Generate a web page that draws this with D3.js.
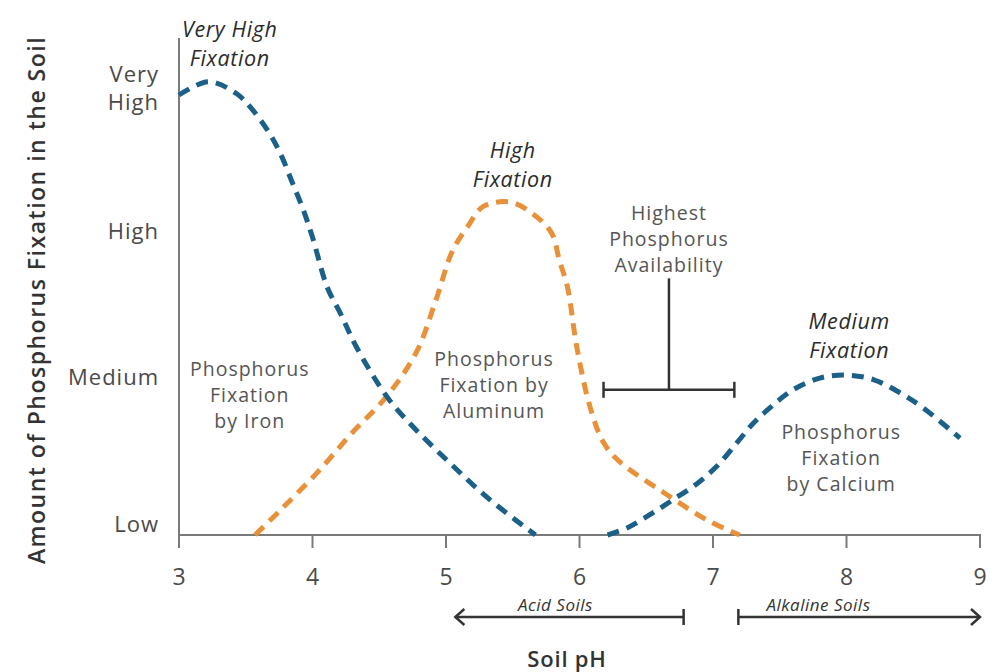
<!DOCTYPE html>
<html>
<head>
<meta charset="utf-8" />
<title>Phosphorus Fixation and Soil pH</title>
<script src="https://cdnjs.cloudflare.com/ajax/libs/d3/7.8.5/d3.min.js"></script>
<style>
body { margin: 0; background: #fff; }
svg text { font-family: "Open Sans", Lato, sans-serif; }
</style>
</head>
<body>
<svg id="chart" width="989" height="672"></svg>
<script>
// fixation levels on the y axis
const levels = [0, 1, 2, 3];
const levelLabels = [["Low"], ["Medium"], ["High"], ["Very", "High"]];
const phTicks = [3, 4, 5, 6, 7, 8, 9];

// curves: [pH, fixation level]
const iron = [[3.0, 3.0], [3.22, 3.09], [3.43, 3.01], [3.55, 2.9], [3.67, 2.75], [3.76, 2.6], [3.85, 2.4],
	[3.93, 2.22], [4.0, 2.03], [4.11, 1.69], [4.21, 1.51], [4.33, 1.28], [4.56, 0.94], [4.73, 0.76],
	[5.03, 0.49], [5.33, 0.24], [5.67, 0.0]];
const aluminum = [[3.57, 0.0], [3.76, 0.17], [4.03, 0.42], [4.3, 0.7], [4.56, 0.95], [4.78, 1.25], [4.92, 1.59],
	[5.05, 1.94], [5.16, 2.1], [5.28, 2.24], [5.48, 2.27], [5.65, 2.19], [5.79, 2.06], [5.85, 1.87],
	[5.91, 1.69], [5.98, 1.28], [6.08, 0.87], [6.18, 0.63], [6.3, 0.5], [6.63, 0.29], [6.96, 0.1], [7.2, 0.0]];
const calcium = [[6.21, 0.0], [6.36, 0.05], [6.53, 0.14], [6.7, 0.24], [6.88, 0.35], [7.03, 0.47], [7.18, 0.63],
	[7.3, 0.76], [7.43, 0.87], [7.6, 0.99], [7.8, 1.07], [8.0, 1.09], [8.2, 1.06], [8.4, 0.97],
	[8.57, 0.87], [8.85, 0.66]];

// annotation text
const peakLabels = [
	{ x: 3.38, y: 3.35, lines: ["Very High", "Fixation"] },
	{ x: 5.5, y: 2.52, lines: ["High", "Fixation"] },
	{ x: 8.02, y: 1.36, lines: ["Medium", "Fixation"] }
];
const areaLabels = [
	{ x: 3.53, y: 0.95, lines: ["Phosphorus", "Fixation", "by Iron"] },
	{ x: 5.36, y: 1.02, lines: ["Phosphorus", "Fixation by", "Aluminum"] },
	{ x: 6.67, y: 2.02, lines: ["Highest", "Phosphorus", "Availability"] },
	{ x: 7.96, y: 0.525, lines: ["Phosphorus", "Fixation", "by Calcium"] }
];
const bracketPh = [6.18, 6.67, 7.16];
const bracketLevel = [0.99, 1.75];
const soilRanges = [
	{ name: "Acid Soils", from: 5.07, to: 6.78, textAt: 5.82, arrow: "left" },
	{ name: "Alkaline Soils", from: 7.19, to: 9.0, textAt: 7.79, arrow: "right" }
];

const svg = d3.select("#chart");
const x = d3.scaleLinear().domain([3, 9]).range([179, 980]);
const y = d3.scaleLinear().domain([0, 3]).range([535, 95]);

const axisColor = "#7a7a7a";
const textColor = "#4a4a4a";

// axes lines
svg.append("line")
	.attr("x1", x(3)).attr("x2", x(3))
	.attr("y1", 38).attr("y2", y(0) + 1)
	.attr("stroke", axisColor).attr("stroke-width", 2);
svg.append("line")
	.attr("x1", x(3)).attr("x2", x(9) + 1)
	.attr("y1", y(0)).attr("y2", y(0))
	.attr("stroke", axisColor).attr("stroke-width", 2);

// x ticks
const xt = svg.append("g");
xt.selectAll("line").data(phTicks).enter().append("line")
	.attr("x1", d => x(d)).attr("x2", d => x(d))
	.attr("y1", y(0)).attr("y2", y(0) + 13)
	.attr("stroke", axisColor).attr("stroke-width", 2);
xt.selectAll("text").data(phTicks).enter().append("text")
	.attr("x", d => x(d)).attr("y", 585)
	.attr("text-anchor", "middle")
	.attr("font-size", 23)
	.attr("fill", textColor)
	.text(d => d);

// y level labels
const yl = svg.append("g");
levels.forEach((lv, i) => {
	const lines = levelLabels[i];
	const t = yl.append("text")
		.attr("x", 159)
		.attr("y", y(lv) - 3 - (lines.length - 1) * 10)
		.attr("text-anchor", "end")
		.attr("font-size", 22)
		.attr("letter-spacing", 1)
		.attr("fill", textColor);
	lines.forEach((s, j) => {
		t.append("tspan").attr("x", 159).attr("dy", j ? 28 : 0).text(s);
	});
});

// axis titles
svg.append("text")
	.attr("transform", "translate(45," + 300 + ") rotate(-90)")
	.attr("text-anchor", "middle")
	.attr("font-size", 23)
	.attr("font-weight", 600)
	.attr("letter-spacing", 1.5)
	.attr("fill", "#333")
	.text("Amount of Phosphorus Fixation in the Soil");
svg.append("text")
	.attr("x", 567).attr("y", 667)
	.attr("text-anchor", "middle")
	.attr("font-size", 22)
	.attr("font-weight", 600)
	.attr("letter-spacing", 0.8)
	.attr("fill", "#333")
	.text("Soil pH");

// curves
const line = d3.line()
	.x(d => x(d[0]))
	.y(d => y(d[1]))
	.curve(d3.curveCatmullRom.alpha(0.5));
const series = [
	{ data: aluminum, color: "#e8913a" },
	{ data: iron, color: "#1b6089" },
	{ data: calcium, color: "#1b6089" }
];
svg.selectAll("path.curve").data(series).enter().append("path")
	.attr("class", "curve")
	.attr("d", d => line(d.data))
	.attr("fill", "none")
	.attr("stroke", d => d.color)
	.attr("stroke-width", 5)
	.attr("stroke-dasharray", "12,8");

// multi-line text helper
function block(g, d, size, lh, style, color, ls) {
	const t = g.append("text")
		.attr("x", x(d.x))
		.attr("y", y(d.y) - (d.lines.length - 1) * lh / 2 + size * 0.35)
		.attr("text-anchor", "middle")
		.attr("font-size", size)
		.attr("font-style", style)
		.attr("letter-spacing", ls)
		.attr("fill", color);
	d.lines.forEach((s, j) => {
		t.append("tspan").attr("x", x(d.x)).attr("dy", j ? lh : 0).text(s);
	});
}
const ann = svg.append("g");
peakLabels.forEach(d => block(ann, d, 21.5, 29, "italic", "#2b2b2b", 0.6));
areaLabels.forEach(d => block(ann, d, 19.5, 26, "normal", "#555", 1));

// availability bracket
const br = svg.append("g").attr("stroke", "#333").attr("stroke-width", 2.5);
br.append("line")
	.attr("x1", x(bracketPh[0])).attr("x2", x(bracketPh[2]))
	.attr("y1", y(bracketLevel[0])).attr("y2", y(bracketLevel[0]));
br.append("line")
	.attr("x1", x(bracketPh[1])).attr("x2", x(bracketPh[1]))
	.attr("y1", y(bracketLevel[0])).attr("y2", y(bracketLevel[1]));
[bracketPh[0], bracketPh[2]].forEach(p => {
	br.append("line")
		.attr("x1", x(p)).attr("x2", x(p))
		.attr("y1", y(bracketLevel[0]) - 8).attr("y2", y(bracketLevel[0]) + 8);
});

// acid / alkaline ranges
const ay = 617;
soilRanges.forEach(r => {
	const g = svg.append("g");
	g.append("line")
		.attr("x1", x(r.from)).attr("x2", x(r.to))
		.attr("y1", ay).attr("y2", ay)
		.attr("stroke", "#333").attr("stroke-width", 2.5);
	const capX = r.arrow === "left" ? x(r.to) : x(r.from);
	g.append("line")
		.attr("x1", capX).attr("x2", capX)
		.attr("y1", ay - 8).attr("y2", ay + 8)
		.attr("stroke", "#333").attr("stroke-width", 2.5);
	const tip = r.arrow === "left" ? x(r.from) : x(r.to);
	const s = r.arrow === "left" ? 1 : -1;
	g.append("path")
		.attr("d", `M${tip + s * 9},${ay - 8} L${tip},${ay} L${tip + s * 9},${ay + 8}`)
		.attr("fill", "none")
		.attr("stroke", "#333").attr("stroke-width", 2.5);
	g.append("text")
		.attr("x", x(r.textAt))
		.attr("y", 611)
		.attr("text-anchor", "middle")
		.attr("font-size", 17)
		.attr("font-style", "italic")
		.attr("letter-spacing", 0.5)
		.attr("fill", "#333")
		.text(r.name);
});
</script>
</body>
</html>
